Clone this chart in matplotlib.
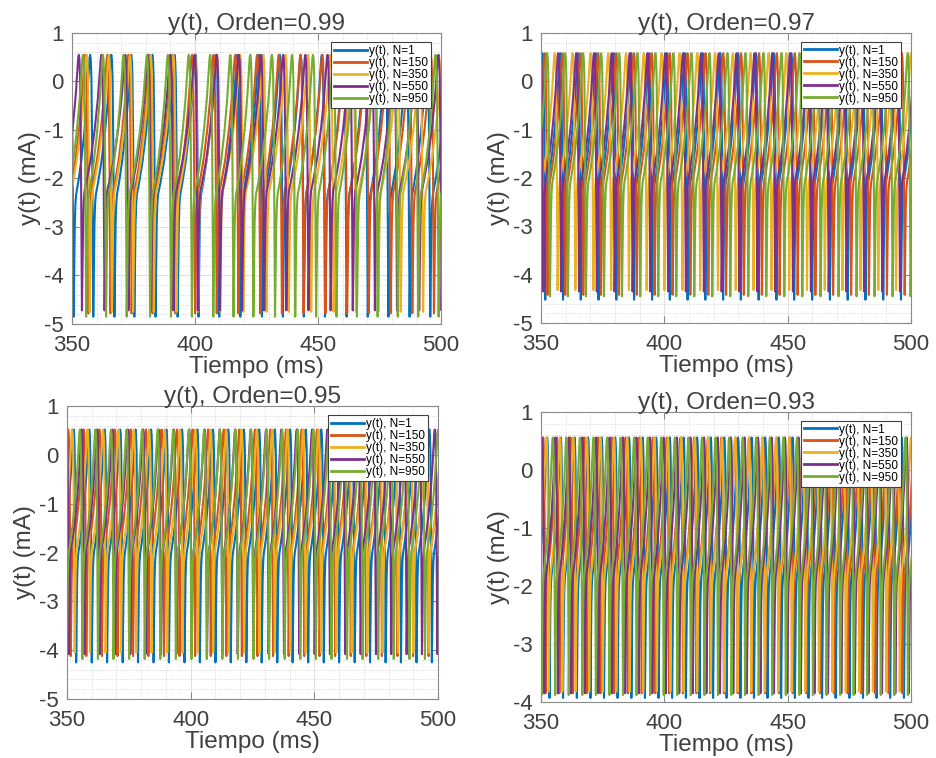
import numpy as np
import matplotlib.pyplot as plt
from matplotlib.ticker import MultipleLocator

plt.rcParams['font.family'] = ['Liberation Sans', 'DejaVu Sans']
plt.rcParams['axes.unicode_minus'] = False

colores = ['#0072BD', '#D95319', '#EDB120', '#7E2F8E', '#77AC30']
etiquetas = ['y(t), N=1', 'y(t), N=150', 'y(t), N=350', 'y(t), N=550', 'y(t), N=950']
ordenes = [0.99, 0.97, 0.95, 0.93]

# tiempos de los picos (ms): N=1, 150, 350, 550, 950
picos_099 = [
    [340.8, 349.4, 357.4, 366.0, 374.1, 382.7, 391.7, 400.2, 408.6, 417.2, 426.0, 434.5,
     443.0, 451.6, 460.4, 469.0, 477.4, 486.0, 494.4, 503.0],
    [338.0, 346.8, 355.4, 364.4, 373.0, 381.5, 390.8, 398.8, 407.6, 416.4, 425.3, 434.1,
     442.9, 451.8, 460.6, 469.4, 478.3, 487.1, 495.9, 504.7],
    [338.8, 347.4, 356.0, 365.0, 373.6, 382.0, 391.2, 400.0, 409.0, 418.4, 427.8, 436.9,
     446.0, 455.1, 464.2, 473.3, 482.4, 491.5, 500.6],
    [335.6, 344.2, 352.8, 362.0, 371.7, 380.9, 390.0, 399.9, 408.9, 417.9, 426.9, 435.9,
     444.9, 453.9, 462.9, 471.9, 480.9, 489.9, 499.0, 508.0],
    [337.3, 345.9, 354.5, 362.6, 371.0, 380.5, 389.0, 397.5, 406.2, 414.4, 422.5, 431.3,
     439.5, 448.0, 456.3, 464.6, 473.0, 481.2, 489.5, 497.8, 506.0],
]
picos_097 = [
    [343.4, 350.6, 357.8, 365.0, 372.2, 379.4, 386.6, 393.9, 401.1, 408.3, 415.5, 422.7,
     429.9, 437.1, 444.3, 451.5, 458.8, 466.0, 473.2, 480.4, 487.6, 494.8, 502.0],
    [344.3, 351.5, 358.7, 366.0, 373.2, 380.5, 387.7, 394.9, 402.2, 409.4, 416.7, 423.9,
     431.1, 438.4, 445.6, 452.9, 460.1, 467.3, 474.6, 481.8, 489.1, 496.3, 503.5],
    [341.2, 348.4, 355.6, 362.8, 370.1, 377.3, 384.5, 391.7, 398.9, 406.2, 413.4, 420.6,
     427.8, 435.0, 442.3, 449.5, 456.7, 463.9, 471.1, 478.4, 485.6, 492.8, 500.0, 507.2],
    [342.6, 349.8, 357.0, 364.3, 371.5, 378.7, 386.0, 393.2, 400.4, 407.6, 414.9, 422.1,
     429.3, 436.6, 443.8, 451.0, 458.3, 465.5, 472.7, 479.9, 487.2, 494.4, 501.6],
    [345.2, 352.5, 359.8, 367.1, 374.4, 381.7, 389.1, 396.4, 403.7, 411.0, 418.3, 425.6,
     432.9, 440.2, 447.5, 454.8, 462.2, 469.5, 476.8, 484.1, 491.4, 498.7, 506.0],
]
picos_095 = [
    [346.4, 352.7, 359.0, 365.2, 371.5, 377.7, 384.0, 390.2, 396.5, 402.7, 409.0, 415.2,
     421.5, 427.7, 434.0, 440.2, 446.5, 452.8, 459.0, 465.3, 471.5, 477.8, 484.0, 490.3,
     496.5, 502.8],
    [344.2, 350.5, 356.8, 363.1, 369.4, 375.7, 381.9, 388.2, 394.5, 400.8, 407.1, 413.4,
     419.7, 426.0, 432.3, 438.6, 444.9, 451.1, 457.4, 463.7, 470.0, 476.3, 482.6, 488.9,
     495.2, 501.5],
    [345.9, 352.1, 358.3, 364.6, 370.8, 377.0, 383.2, 389.5, 395.7, 401.9, 408.1, 414.4,
     420.6, 426.8, 433.0, 439.2, 445.5, 451.7, 457.9, 464.1, 470.4, 476.6, 482.8, 489.0,
     495.3, 501.5],
    [343.6, 349.8, 356.0, 362.2, 368.4, 374.6, 380.8, 387.0, 393.2, 399.4, 405.6, 411.8,
     418.0, 424.3, 430.5, 436.7, 442.9, 449.1, 455.3, 461.5, 467.7, 473.9, 480.1, 486.3,
     492.5, 498.7, 504.9],
    [342.6, 348.9, 355.2, 361.5, 367.8, 374.1, 380.4, 386.7, 393.0, 399.3, 405.5, 411.8,
     418.1, 424.4, 430.7, 437.0, 443.3, 449.6, 455.9, 462.2, 468.5, 474.8, 481.1, 487.4,
     493.7, 500.0, 506.3],
]
picos_093 = [
    [347.0, 352.5, 358.0, 363.6, 369.1, 374.6, 380.1, 385.7, 391.2, 396.7, 402.2, 407.8,
     413.3, 418.8, 424.3, 429.9, 435.4, 440.9, 446.4, 452.0, 457.5, 463.0, 468.5, 474.1,
     479.6, 485.1, 490.6, 496.2, 501.7],
    [345.3, 350.9, 356.5, 362.0, 367.6, 373.2, 378.7, 384.3, 389.9, 395.4, 401.0, 406.6,
     412.1, 417.7, 423.2, 428.8, 434.4, 439.9, 445.5, 451.1, 456.6, 462.2, 467.8, 473.3,
     478.9, 484.5, 490.0, 495.6, 501.2],
    [346.7, 352.2, 357.7, 363.1, 368.6, 374.1, 379.6, 385.0, 390.5, 396.0, 401.5, 406.9,
     412.4, 417.9, 423.4, 428.8, 434.3, 439.8, 445.3, 450.7, 456.2, 461.7, 467.2, 472.6,
     478.1, 483.6, 489.1, 494.5, 500.0, 505.5],
    [344.9, 350.4, 355.9, 361.3, 366.8, 372.3, 377.8, 383.2, 388.7, 394.2, 399.7, 405.1,
     410.6, 416.1, 421.6, 427.0, 432.5, 438.0, 443.5, 448.9, 454.4, 459.9, 465.4, 470.8,
     476.3, 481.8, 487.3, 492.7, 498.2, 503.7],
    [343.8, 349.3, 354.8, 360.3, 365.8, 371.3, 376.8, 382.3, 387.8, 393.3, 398.8, 404.3,
     409.8, 415.3, 420.8, 426.3, 431.8, 437.3, 442.8, 448.3, 453.8, 459.3, 464.8, 470.3,
     475.8, 481.3, 486.8, 492.3, 497.8, 503.3],
]

# valor del pico y minimos de cada serie (mA)
tope = [0.55, 0.58, 0.52, 0.56]
fondo_099 = [-4.85, -4.78, -4.75, -4.72, -4.85]
fondo_097 = [-4.52, -4.42, -4.32, -4.35, -4.45]
fondo_095 = [-4.25, -4.12, -4.05, -4.08, -4.18]
fondo_093 = [-3.93, -3.85, -3.82, -3.85, -3.88]

caida_dt = [0.0, 0.25, 0.5, 0.8, 1.05, 1.25, 1.5, 1.75, 2.0, 2.3]
caida_u = [1.0, 0.98, 0.91, 0.65, 0.30, 0.0, 0.17, 0.355, 0.43, 0.467]
lenta_f = [0.15, 0.4, 0.65, 0.85, 1.0]
lenta_u = [0.51, 0.595, 0.71, 0.83, 0.955]
escala = [1.0, 0.9, 0.8, 0.75]

ylims = [(-5, 1), (-5, 1), (-5, 1), (-4, 1)]
rects = [[0.0769, 0.5726, 0.3942, 0.3839], [0.578, 0.574, 0.3953, 0.3826],
         [0.0716, 0.0778, 0.3964, 0.3865], [0.578, 0.0739, 0.3953, 0.3826]]


def curva(picos, alto, bajo, esc):
    t, y = [], []
    rango = alto - bajo
    for p0, p1 in zip(picos[:-1], picos[1:]):
        for dt, u in zip(caida_dt, caida_u):
            t.append(p0 + dt * esc)
            y.append(bajo + u * rango)
        rod = p0 + caida_dt[-1] * esc
        fin = p1 - 0.5 * esc
        for f, u in zip(lenta_f, lenta_u):
            t.append(rod + f * (fin - rod))
            y.append(bajo + u * rango)
        t.append(p1 - 0.25 * esc)
        y.append(bajo + 0.99 * rango)
    t.append(picos[-1])
    y.append(alto)
    return t, y


fig = plt.figure(figsize=(9.36, 7.58), dpi=100)
todos_picos = [picos_099, picos_097, picos_095, picos_093]
todos_fondos = [fondo_099, fondo_097, fondo_095, fondo_093]

for i in range(4):
    ax = fig.add_axes(rects[i])
    for j in range(5):
        t, y = curva(todos_picos[i][j], tope[i], todos_fondos[i][j], escala[i])
        ax.plot(t, y, color=colores[j], lw=1.5, label=etiquetas[j])

    ax.set_xlim(350, 500)
    ax.set_ylim(*ylims[i])
    ax.xaxis.set_major_locator(MultipleLocator(50))
    ax.xaxis.set_minor_locator(MultipleLocator(10))
    ax.yaxis.set_major_locator(MultipleLocator(1))
    ax.yaxis.set_minor_locator(MultipleLocator(0.2))
    ax.grid(True, which='major', color='#dcdcdc', lw=0.6)
    ax.grid(True, which='minor', color='#cfcfcf', lw=0.6, ls=':')
    ax.set_axisbelow(True)

    ax.tick_params(which='major', direction='in', top=True, right=True, length=5,
                   labelsize=16, colors='#8a8a8a', labelcolor='#404040')
    ax.tick_params(axis='x', pad=8)
    ax.tick_params(axis='y', pad=6)
    ax.tick_params(which='minor', length=0)
    for s in ax.spines.values():
        s.set_color('#8a8a8a')
        s.set_linewidth(0.8)

    ax.set_xlabel('Tiempo (ms)', fontsize=17.5, color='#404040', labelpad=0)
    ax.set_ylabel('y(t) (mA)', fontsize=17.5, color='#404040', labelpad=2)
    ax.set_title('y(t), Orden=%.2f' % ordenes[i], fontsize=17.5, color='#404040', pad=2)

    leg = ax.legend(loc='upper right', bbox_to_anchor=(0.972, 0.97), borderaxespad=0,
                    fontsize=8.5, handlelength=2.8, handletextpad=0.15, labelspacing=0.0,
                    borderpad=0.25, fancybox=False, framealpha=1)
    leg.get_frame().set_edgecolor('#404040')
    leg.get_frame().set_linewidth(0.8)
    for ln in leg.get_lines():
        ln.set_linewidth(2)

fig.savefig('out.png', dpi=100)
